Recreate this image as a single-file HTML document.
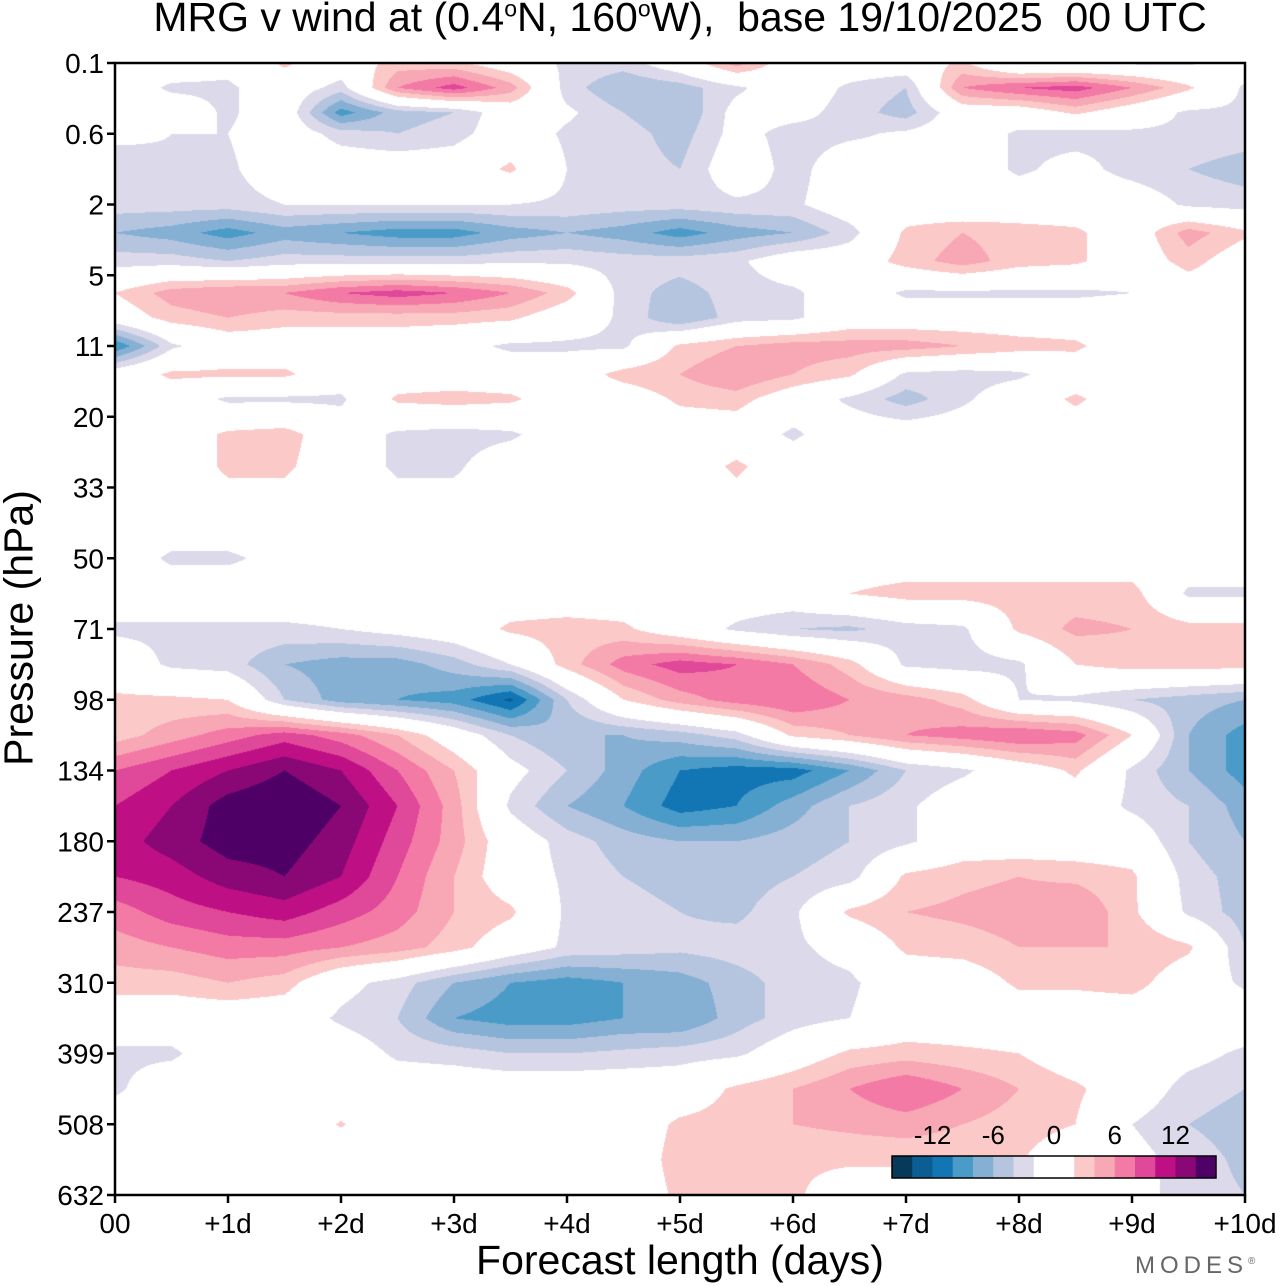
<!DOCTYPE html>
<html><head><meta charset="utf-8">
<style>
body{margin:0;background:#fff;width:1280px;height:1286px;overflow:hidden;position:relative;font-family:"Liberation Sans",sans-serif;}
.t{position:absolute;color:#000;white-space:nowrap;}
</style></head><body>
<div class="t" style="left:0;width:1360px;text-align:center;top:-6px;font-size:41px;">MRG v wind at (0.4<sup style="font-size:23px">o</sup>N, 160<sup style="font-size:23px">o</sup>W),&nbsp; base 19/10/2025&nbsp; 00 UTC</div>
<canvas id="cv" width="1130" height="1132" style="position:absolute;left:115px;top:63px;"></canvas>
<svg id="ax" width="1280" height="1286" style="position:absolute;left:0;top:0;"></svg>
<div class="t" style="left:19px;top:628px;font-size:41px;transform:translate(-50%,-50%) rotate(-90deg);">Pressure (hPa)</div>
<div class="t" style="left:680px;top:1237px;font-size:41px;transform:translateX(-50%);">Forecast length (days)</div>
<div class="t" style="left:1135px;top:1252px;font-size:24px;letter-spacing:5px;color:#666;">MODES<sup style="font-size:10px">®</sup></div>
<script>
const pressureLabels=["0.1","0.6","2","5","11","20","33","50","71","98","134","180","237","310","399","508","632"];
const dayLabels=["00","+1d","+2d","+3d","+4d","+5d","+6d","+7d","+8d","+9d","+10d"];
const days=[0,0.5,1,1.5,2,2.5,3,3.5,4,4.5,5,5.5,6,6.5,7,7.5,8,8.5,9,9.5,10];
const levelIdx=[0,0.35,0.7,1,1.5,2,2.4,2.8,3.25,3.6,4,4.4,4.75,5.25,5.7,6.5,7,7.5,8,8.5,9,9.5,10,10.5,11,11.5,12,12.5,13,13.5,14,14.5,15,15.5,16];
const vwind=[
[0,0,-1,2.5,0,3,2.5,0,-2.5,-3,0,5,0,0,0,2.5,-2.5,-2.5,-2.5,-2.5,0],
[0,-2.5,-2.5,0,-3,6,9,5,-3,-6,-5,-2.5,0,-2.5,-4,6,8,9,6,2.5,-2.5],
[0,0,-2.5,0,-9,-5,-4,0,-1.5,-4,-6,-1,-1,-3,-5,0,0,2.5,0,-2.5,-2.5],
[-1,-2,-2,0,-3,-4,-3,0,-2.5,-3,-5,-1,-3,-2.5,-1.5,0,-2.5,-3,-2.5,-2.5,-3],
[-4,-2.5,-2.5,0,0,0,0,2.5,-2,-3,-4,0,-3,0,-1,0,-2.5,-1,-3,-4,-5],
[-3,-3,-3,-2,-2,-2,-2,-2,-2.5,-3,-3,-2.5,-2.5,0,0,-1,0,0,0,-2.5,-3],
[-6,-7,-9,-7,-8,-9,-9,-7,-6,-7,-9,-7,-6,-3,2.5,4,3,2.5,0,5,2.5],
[-3,-3,-4,-3,-3,-3,-3,-2.5,-2.5,-3,-3,-2.5,0,0,3,5,3,2.5,0,3,0],
[2,5,6,6,8,9,8,6,3,-3,-5,-3,-2.5,0,-2.5,-2.5,-2.5,-2.5,-2,0,0],
[0,3,4,3,3,3,3,2.5,0,-2.5,-6,-3,-2.5,0,0,0,0,0,0,0,0],
[-10,-2.5,0,0,0,0,-1,-2.5,-2.5,-2.5,2.5,4,5,5,5,4,3,2.5,0,0,0],
[0,2.5,2.5,2.5,0,0,0,0,0,3,4,6,4,2.5,-2.5,-3,-2.5,0,0,0,0],
[0,0,-2.5,-2.5,-2.5,2.5,3,2.5,0,0,2.5,3,0,-2.5,-5,-2.5,0,2.5,0,0,0],
[0,0,2.5,3,0,-2.5,-3,-2.5,0,0,0,0,-2.5,0,0,0,0,0,0,0,0],
[0,0,2.5,2.5,0,-2.5,-2.5,0,0,0,0,2.5,0,0,0,0,0,0,0,0,0],
[0,0,0,0,0,0,0,0,0,0,0,0,0,0,0,0,0,0,0,0,0],
[0,-2.5,-2.5,-1,0,0,0,0,0,0,0,0,0,0,0,0,0,0,0,0,0],
[0,0,0,0,0,0,0,0,0,0,0,0,0,2,3,3,3,3,3,-2.5,-2.5],
[-2.5,-2.5,-2.5,-2.5,-2,-1,0,2.5,3,2.5,0,-2.5,-4,-4.5,-3,-2.5,2.5,4.5,4,3,3],
[0,-2.5,-3,-6,-7,-7,-5,-2,3,7,9,8,6,3,-2.5,-3,-2.5,2,3,3,3],
[2.5,2.5,2,-4,-7,-8,-9,-12.5,-4,2,5,7,8,6,5,3,-2,-2.5,-4,-5,-6],
[3,5,7,9,7,4,0,-4,-6,-6,-5,-3,2.5,4,6,7,8,7,2,-6,-9],
[8,10,12,14,12,8,4,-1,-4,-7,-10,-11,-11,-8,-4,-2.5,0,2.5,-2.5,-6,-9],
[10,12,15,16,14,10,5,-2.5,-6,-8,-11,-10,-7,-4,-2.5,0,0,0,-2.5,-4,-7],
[11,13,15,15,13,9,5,0,-3,-5,-6,-6,-5,-4,-2.5,0,0,0,0,-4,-6],
[10,11,13,14,12,8,4,0,-2.5,-4,-5,-5,-4,-3,2.5,3.5,4,3.5,2.5,-3,-5],
[7,9,10,11,9,7,4,2.5,-2.5,-3,-4,-4.5,-2.5,2.5,4,4.5,5,6,2.5,-2.5,-5],
[5,6,7,7,6,5,3,0,-2.5,-3,-3.5,-3,-2.5,-1,2.5,3,4,4,4,2.5,-4],
[3,3,4,3,-1,-3,-6,-8,-9,-8,-7,-5,-3,-2.5,0,0,2.5,2.5,3,0,-2.5],
[0,0,0,0,-2.5,-4,-8,-9,-9,-8,-8,-5,-3,-2,0,0,0,0,0,0,0],
[-2.5,-2.5,0,0,0,-2.5,-3,-4,-4,-3.5,-3,-2.5,0,2.5,3,2.5,2,0,0,-1,-2.5],
[-2.5,0,0,0,0,0,0,0,0,0,0,2.5,4,6,8,6,4,2.5,0,-3,-4],
[0,0,0,0,2.2,0,0,0,0,0,2.5,3,4,4.5,5,4,3,2,-2,-4,-5],
[0,0,0,0,0,0,0,0,0,0,3,3,2.5,2.5,2.5,2.5,2.2,0,-1,-3,-4.5],
[0,0,0,0,0,0,0,0,0,0,2.5,2.5,2.5,0,0,0,0,0,-1,-3,-4]
];
const levelEdges=[-14,-12,-10,-8,-6,-4,-2,2,4,6,8,10,12,14];
const levelColors=["#073a5a","#0b5e94","#1276b5","#4b9bc9","#85b0d4","#b5c5df","#dcdaea","#ffffff","#fcc9c9","#f8a7b5","#f47aa6","#e0489a","#bf0f84","#8a0876","#4e0067"];

const X0=115,X1=1245,Y0=63,Y1=1195;
const xs=d=>X0+(d/10)*(X1-X0);
const ys=l=>Y0+(l/16)*(Y1-Y0);
function rgb(h){return [parseInt(h.slice(1,3),16),parseInt(h.slice(3,5),16),parseInt(h.slice(5,7),16)];}
const cols=levelColors.map(rgb);
function colIdx(v){let i=0;while(i<levelEdges.length&&v>=levelEdges[i])i++;return i;}
const cv=document.getElementById('cv'),ctx=cv.getContext('2d');
const W=cv.width,H=cv.height,img=ctx.createImageData(W,H);
for(let py=0;py<H;py++){
  const L=(py+0.5)/H*16;
  let r=0;while(r<levelIdx.length-2&&L>levelIdx[r+1])r++;
  const fy=Math.min(1,Math.max(0,(L-levelIdx[r])/(levelIdx[r+1]-levelIdx[r])));
  for(let px=0;px<W;px++){
    const d=(px+0.5)/W*10;
    let c=Math.min(days.length-2,Math.floor(d/0.5));
    const fx=(d-days[c])/(days[c+1]-days[c]);
    const v=(vwind[r][c]*(1-fx)+vwind[r][c+1]*fx)*(1-fy)+(vwind[r+1][c]*(1-fx)+vwind[r+1][c+1]*fx)*fy;
    const col=cols[colIdx(v)],k=(py*W+px)*4;
    img.data[k]=col[0];img.data[k+1]=col[1];img.data[k+2]=col[2];img.data[k+3]=255;
  }
}
ctx.putImageData(img,0,0);
const svg=document.getElementById('ax'),NS="http://www.w3.org/2000/svg";
function mk(t,a,p){const e=document.createElementNS(NS,t);for(const k in a)e.setAttribute(k,a[k]);(p||svg).appendChild(e);return e;}
const frame=mk('rect',{x:X0,y:Y0,width:X1-X0,height:Y1-Y0,fill:'none',stroke:'#000','stroke-width':2.5});


pressureLabels.forEach((lab,i)=>{
  const y=ys(i);
  const tk=mk('line',{x1:X0-8,x2:X0,y1:y,y2:y,stroke:'#000','stroke-width':2.5});
  
  
  const tx=mk('text',{x:X0-11,y:y+10,'text-anchor':'end','font-size':28,'font-family':'Liberation Sans, sans-serif'});
  tx.textContent=lab;
  
  
});
dayLabels.forEach((lab,i)=>{
  const x=xs(i);
  const tk=mk('line',{x1:x,x2:x,y1:Y1,y2:Y1+8,stroke:'#000','stroke-width':2.5});
  
  
  const tx=mk('text',{x:x,y:Y1+38,'text-anchor':'middle','font-size':28,'font-family':'Liberation Sans, sans-serif'});
  tx.textContent=lab;
  
  
});
const cbX=892,cbW=324,cbY=1156,cbH=22;
const nb=16,bw=cbW/nb;
const boxMap=[0,1,2,3,4,5,6,7,7,8,9,10,11,12,13,14];
boxMap.forEach((ci,i)=>{
  const b=mk('rect',{x:cbX+i*bw,y:cbY,width:bw+0.5,height:cbH,fill:levelColors[ci]});
  
  
});
const cbf=mk('rect',{x:cbX,y:cbY,width:cbW,height:cbH,fill:'none',stroke:'#000','stroke-width':1.5});


const cbTicks=[-12,-6,0,6,12];
cbTicks.forEach(v=>{
  const x=cbX+cbW/2+v/2*bw;
  const tx=mk('text',{x:x,y:1144,'text-anchor':'middle','font-size':26,'font-family':'Liberation Sans, sans-serif'});
  tx.textContent=String(v);
  
  
});
</script>
</body></html>
